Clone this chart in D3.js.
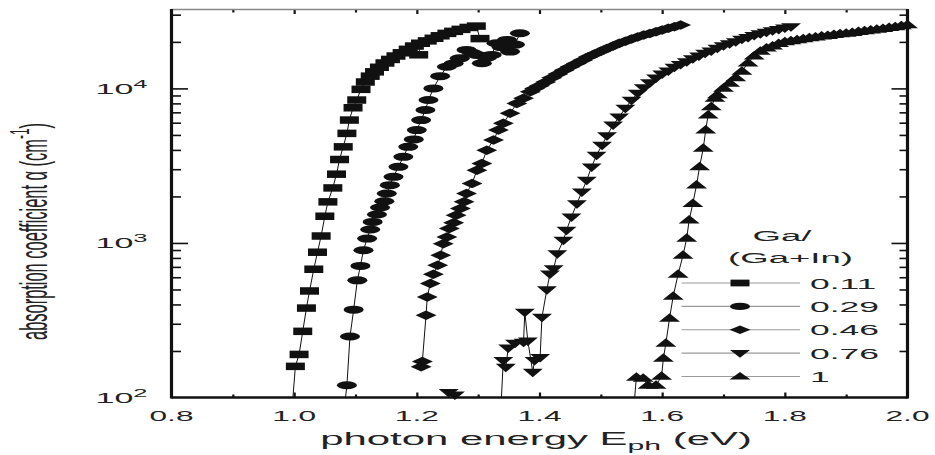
<!DOCTYPE html>
<html>
<head>
<meta charset="utf-8">
<script src="https://cdn.jsdelivr.net/npm/d3@7"></script>
<style>
  html, body { margin: 0; padding: 0; background: #fff; }
  svg { display: block; font-family: "Liberation Sans", Arial, Helvetica, sans-serif; }
</style>
</head>
<body>
<svg id="chart" width="935" height="455"></svg>
<script>
// Ga/(Ga+In) ratio of each film, in legend order
const compositions = ["0.11", "0.29", "0.46", "0.76", "1"];
const markerTypes = ["square", "circle", "diamond", "triangleDown", "triangleUp"];

// axis ticks
const xMajorTicks = [0.8, 1.0, 1.2, 1.4, 1.6, 1.8, 2.0];
const xMinorTicks = [0.9, 1.1, 1.3, 1.5, 1.7, 1.9];
const yDecades = [100, 1000, 10000];
const yDecadeExponents = ["2", "3", "4"];
const yMinorTicks = [200, 300, 400, 500, 600, 700, 800, 900,
                     2000, 3000, 4000, 5000, 6000, 7000, 8000, 9000,
                     20000, 30000];

// [photon energy (eV), absorption coefficient (cm^-1)]
const ga011 = [
  [0.996, 80], [1.002, 159], [1.008, 190], [1.014, 268], [1.020, 379], [1.025, 489],
  [1.032, 676], [1.038, 871], [1.044, 1109], [1.050, 1489], [1.055, 1845], [1.063, 2270],
  [1.069, 2786], [1.074, 3467], [1.080, 4187], [1.086, 5117], [1.090, 6240], [1.096, 7494],
  [1.102, 8410], [1.109, 9860], [1.116, 11000], [1.124, 12000], [1.131, 12800], [1.139, 13700],
  [1.148, 14600], [1.157, 15400], [1.166, 16200], [1.176, 17000], [1.186, 17900], [1.196, 18800],
  [1.203, 16500], [1.206, 19600], [1.217, 20300], [1.228, 21100], [1.238, 21900], [1.249, 22700],
  [1.260, 23400], [1.272, 24100], [1.285, 24800], [1.297, 25300], [1.303, 21000]
];

const ga029 = [
  [1.081, 80], [1.086, 120], [1.091, 248], [1.097, 370], [1.103, 573], [1.108, 710],
  [1.113, 897], [1.119, 1067], [1.124, 1222], [1.128, 1368], [1.135, 1527], [1.140, 1695],
  [1.147, 1862], [1.151, 2090], [1.156, 2366], [1.162, 2679], [1.170, 3108], [1.178, 3607],
  [1.186, 4188], [1.195, 4677], [1.200, 5376], [1.207, 6238], [1.214, 7245], [1.219, 8410],
  [1.227, 10000], [1.238, 12000], [1.249, 13800], [1.260, 14500], [1.270, 15660], [1.281, 17740],
  [1.290, 17000], [1.298, 16470], [1.306, 14550], [1.314, 15800], [1.322, 16470], [1.330, 19600],
  [1.338, 18500], [1.347, 20590], [1.352, 17300], [1.360, 19200], [1.368, 22750]
];

const ga046 = [
  [1.207, 158], [1.209, 171], [1.215, 340], [1.217, 447], [1.222, 546], [1.227, 627],
  [1.234, 717], [1.239, 832], [1.243, 990], [1.249, 1094], [1.253, 1240], [1.260, 1349],
  [1.264, 1513], [1.271, 1672], [1.277, 1845], [1.281, 2090], [1.290, 2426], [1.298, 2958],
  [1.306, 3271], [1.314, 3984], [1.325, 4630], [1.333, 5376], [1.341, 5941], [1.352, 6898],
  [1.363, 8000], [1.374, 8630], [1.385, 9522], [1.392, 10000], [1.400, 10400], [1.410, 11000],
  [1.420, 11700], [1.430, 12400], [1.440, 13100], [1.450, 13800], [1.460, 14500], [1.470, 15200],
  [1.480, 16000], [1.490, 16700], [1.500, 17400], [1.510, 18100], [1.520, 18800], [1.530, 19600],
  [1.540, 20200], [1.550, 20900], [1.560, 21500], [1.570, 22200], [1.580, 22700], [1.590, 23300],
  [1.600, 23900], [1.610, 24500], [1.620, 25100], [1.630, 25700]
];

const ga076 = [
  [1.252, 108], [1.262, 104], [1.268, 70], [1.336, 70], [1.341, 174], [1.345, 157],
  [1.349, 209], [1.360, 225], [1.374, 228], [1.376, 357], [1.381, 232], [1.389, 146],
  [1.392, 174], [1.401, 182], [1.404, 331], [1.412, 499], [1.417, 631], [1.423, 682],
  [1.429, 853], [1.439, 1041], [1.444, 1208], [1.452, 1474], [1.461, 1799], [1.469, 2139],
  [1.477, 2545], [1.485, 3108], [1.493, 3698], [1.502, 4300], [1.510, 4950], [1.520, 5800],
  [1.530, 6550], [1.540, 7450], [1.550, 8400], [1.560, 9300], [1.570, 10100], [1.580, 10900],
  [1.590, 11700], [1.600, 12400], [1.610, 13000], [1.620, 13700], [1.630, 14300], [1.640, 14900],
  [1.650, 15600], [1.660, 16200], [1.670, 16900], [1.680, 17500], [1.690, 18200], [1.700, 18900],
  [1.710, 19500], [1.720, 20100], [1.730, 20800], [1.740, 21400], [1.750, 22000], [1.760, 22600],
  [1.770, 23100], [1.780, 23600], [1.790, 24100], [1.800, 24600], [1.810, 25100]
];

const ga100 = [
  [1.553, 80], [1.558, 135], [1.569, 133], [1.577, 120], [1.590, 120], [1.599, 137],
  [1.602, 179], [1.606, 224], [1.612, 325], [1.618, 452], [1.626, 627], [1.634, 832],
  [1.640, 1071], [1.644, 1403], [1.650, 1799], [1.656, 2366], [1.661, 3108], [1.667, 4093],
  [1.671, 5376], [1.675, 6722], [1.680, 7600], [1.686, 8630], [1.690, 9100], [1.700, 10000],
  [1.710, 10800], [1.720, 11700], [1.730, 12900], [1.740, 14600], [1.750, 16200], [1.760, 17400],
  [1.770, 18200], [1.780, 18800], [1.790, 19500], [1.800, 20000], [1.810, 20300], [1.820, 20600],
  [1.830, 20900], [1.840, 21200], [1.850, 21500], [1.860, 21800], [1.870, 22000], [1.880, 22300],
  [1.890, 22500], [1.900, 22750], [1.910, 23000], [1.920, 23300], [1.930, 23550], [1.940, 23800],
  [1.950, 24100], [1.960, 24400], [1.970, 24700], [1.980, 25000], [1.990, 25400], [2.000, 25750]
];

const seriesData = [ga011, ga029, ga046, ga076, ga100];

// ---------------------------------------------------------------
const svg = d3.select("#chart");
const plot = { left: 171.5, right: 907.5, top: 9.5, bottom: 397.5 };

const x = d3.scaleLinear().domain([0.8, 2.0]).range([plot.left, plot.right]);
const y = d3.scaleLog().domain([100, 32400]).range([plot.bottom, plot.top]);

// marker outlines, wide and flat
function markerPath(type, w, h) {
  const a = w / 2, b = h / 2;
  switch (type) {
    case "square": return `M${-a},${-b}H${a}V${b}H${-a}Z`;
    case "circle": return `M${-a},0A${a},${b} 0 1,0 ${a},0A${a},${b} 0 1,0 ${-a},0Z`;
    case "diamond": return `M0,${-b}L${a},0L0,${b}L${-a},0Z`;
    case "triangleDown": return `M${-a},${-h * 0.4}L${a},${-h * 0.4}L0,${h * 0.6}Z`;
    case "triangleUp": return `M0,${-h * 0.6}L${a},${h * 0.4}L${-a},${h * 0.4}Z`;
  }
}
const markerSize = {
  square: [19, 7.5], circle: [20, 8], diamond: [21, 9.5],
  triangleDown: [20, 8.5], triangleUp: [21, 8.5]
};

// text helper: sans text with optional super/subscripts, widened horizontally
function drawText(parent, px, py, anchor, size, parts) {
  const t = parent.append("text")
    .attr("text-anchor", anchor)
    .attr("font-size", size)
    .attr("fill", "#222");
  let shift = 0;
  parts.forEach(p => {
    const s = t.append("tspan").text(p.t);
    let target = 0;
    if (p.sup) { s.attr("font-size", size * (p.scale || 0.72)); target = -size * (p.rise || 0.45); }
    if (p.sub) { s.attr("font-size", size * (p.scale || 0.72)); target = size * (p.drop || 0.3); }
    s.attr("dy", target - shift);
    shift = target;
  });
  t.attr("data-x", px).attr("data-y", py);
  return t;
}
function naturalWidth(t) { return t.node().getBBox().width; }
function setStretch(t, kx) {
  t.attr("transform", `translate(${t.attr("data-x")},${t.attr("data-y")}) scale(${kx},1)`);
}

// clip for connecting lines
svg.append("defs").append("clipPath").attr("id", "plotClip")
  .append("rect")
  .attr("x", plot.left).attr("y", plot.top)
  .attr("width", plot.right - plot.left).attr("height", plot.bottom - plot.top);

// ---- data ----
const line = d3.line().x(d => x(d[0])).y(d => y(d[1]));
const dataG = svg.append("g");
seriesData.forEach((data, i) => {
  const g = dataG.append("g");
  g.append("path")
    .datum(data)
    .attr("d", line)
    .attr("fill", "none")
    .attr("stroke", "#111")
    .attr("stroke-width", 1)
    .attr("clip-path", "url(#plotClip)");
  const type = markerTypes[i];
  const [w, h] = markerSize[type];
  g.selectAll("path.m")
    .data(data.filter(d => d[1] >= 100))
    .join("path")
    .attr("class", "m")
    .attr("d", markerPath(type, w, h))
    .attr("transform", d => `translate(${x(d[0])},${y(d[1])})`)
    .attr("fill", "#111");
});

// ---- axes and frame ----
const axG = svg.append("g");
function styleAxis(g, width) {
  g.select(".domain").remove();
  g.selectAll(".tick line").attr("stroke", "#111").attr("stroke-width", width);
  g.selectAll(".tick text").remove();
}
axG.append("g").attr("transform", `translate(0,${plot.bottom})`)
  .call(d3.axisBottom(x).tickValues(xMajorTicks.slice(1, -1)).tickSize(-5)).call(styleAxis, 2.2);
axG.append("g").attr("transform", `translate(0,${plot.bottom})`)
  .call(d3.axisBottom(x).tickValues(xMinorTicks).tickSize(-3)).call(styleAxis, 2.2);
axG.append("g").attr("transform", `translate(0,${plot.top})`)
  .call(d3.axisTop(x).tickValues(xMajorTicks.slice(1, -1)).tickSize(-4.5)).call(styleAxis, 2.2);
axG.append("g").attr("transform", `translate(0,${plot.top})`)
  .call(d3.axisTop(x).tickValues(xMinorTicks).tickSize(-3)).call(styleAxis, 2.2);
axG.append("g").attr("transform", `translate(${plot.left},0)`)
  .call(d3.axisLeft(y).tickValues(yDecades.slice(1)).tickSize(-16.5)).call(styleAxis, 1.6);
axG.append("g").attr("transform", `translate(${plot.left},0)`)
  .call(d3.axisLeft(y).tickValues(yMinorTicks).tickSize(-9.5)).call(styleAxis, 1.6);
axG.append("g").attr("transform", `translate(${plot.right},0)`)
  .call(d3.axisRight(y).tickValues(yDecades.slice(1)).tickSize(-16)).call(styleAxis, 1.6);
axG.append("g").attr("transform", `translate(${plot.right},0)`)
  .call(d3.axisRight(y).tickValues(yMinorTicks).tickSize(-8)).call(styleAxis, 1.6);

// frame: thin grey top, heavy black left / right / bottom
axG.append("line").attr("x1", plot.left).attr("x2", plot.right)
  .attr("y1", plot.top).attr("y2", plot.top)
  .attr("stroke", "#888").attr("stroke-width", 1.4);
axG.append("line").attr("x1", plot.left).attr("x2", plot.left)
  .attr("y1", plot.top - 0.5).attr("y2", plot.bottom + 1)
  .attr("stroke", "#111").attr("stroke-width", 3.2);
axG.append("line").attr("x1", plot.right).attr("x2", plot.right)
  .attr("y1", plot.top - 0.5).attr("y2", plot.bottom + 1)
  .attr("stroke", "#111").attr("stroke-width", 3.2);
axG.append("line").attr("x1", plot.left).attr("x2", plot.right)
  .attr("y1", plot.bottom).attr("y2", plot.bottom)
  .attr("stroke", "#111").attr("stroke-width", 2.6);

// ---- tick labels (wide face: one stretch factor per group) ----
const labelG = svg.append("g");
const xLabels = xMajorTicks.map(v => drawText(labelG, x(v), 420.5, "middle", 15, [{ t: v.toFixed(1) }]));
const kTickX = 44 / naturalWidth(xLabels[1]);
xLabels.forEach(t => setStretch(t, kTickX));

const yLabels = yDecades.map((v, i) => drawText(labelG, 147.5, y(v) + 5.5, "end", 14.5,
  [{ t: "10" }, { t: yDecadeExponents[i], sup: true, scale: 0.75, rise: 0.42 }]));
const kTickY = 52 / naturalWidth(yLabels[0]);
yLabels.forEach(t => setStretch(t, kTickY));

// ---- axis titles ----
const xTitle = drawText(labelG, 536, 445, "middle", 19,
  [{ t: "photon energy E" }, { t: "ph", sub: true, scale: 0.72, drop: 0.28 }, { t: " (eV)" }]);
setStretch(xTitle, 432 / naturalWidth(xTitle));

const yTitle = drawText(labelG, 0, 0, "middle", 18.5,
  [{ t: "absorption coefficient \u03b1 (cm" }, { t: "-1", sup: true, scale: 0.72, rise: 0.45 }, { t: ")" }]);
yTitle.attr("transform", `translate(46.5,231.5) rotate(-90) scale(${217 / naturalWidth(yTitle)},2.05)`);

// ---- legend ----
const legG = svg.append("g");
const legTitle1 = drawText(legG, 782, 240.5, "middle", 15.5, [{ t: "Ga/" }]);
const legTitle2 = drawText(legG, 790.5, 262.5, "middle", 15.5, [{ t: "(Ga+In)" }]);
const kLegend = 125 / naturalWidth(legTitle2);
setStretch(legTitle1, kLegend);
setStretch(legTitle2, kLegend);

const legendRowY = d3.scaleLinear().domain([0, 4]).range([283, 376.5]);
const legLabels = [];
compositions.forEach((c, i) => {
  const ry = legendRowY(i);
  legG.append("line").attr("x1", 681.5).attr("x2", 800)
    .attr("y1", ry).attr("y2", ry)
    .attr("stroke", "#9a9a9a").attr("stroke-width", 1.1);
  const type = markerTypes[i];
  const [w, h] = markerSize[type];
  legG.append("path")
    .attr("d", markerPath(type, w, h * 0.9))
    .attr("transform", `translate(740,${ry})`)
    .attr("fill", "#111");
  legLabels.push(drawText(legG, 810, ry + 5.5, "start", 15.5, [{ t: c }]));
});
const kLegLabel = 69 / naturalWidth(legLabels[1]);
legLabels.forEach(t => setStretch(t, kLegLabel));
</script>
</body>
</html>
